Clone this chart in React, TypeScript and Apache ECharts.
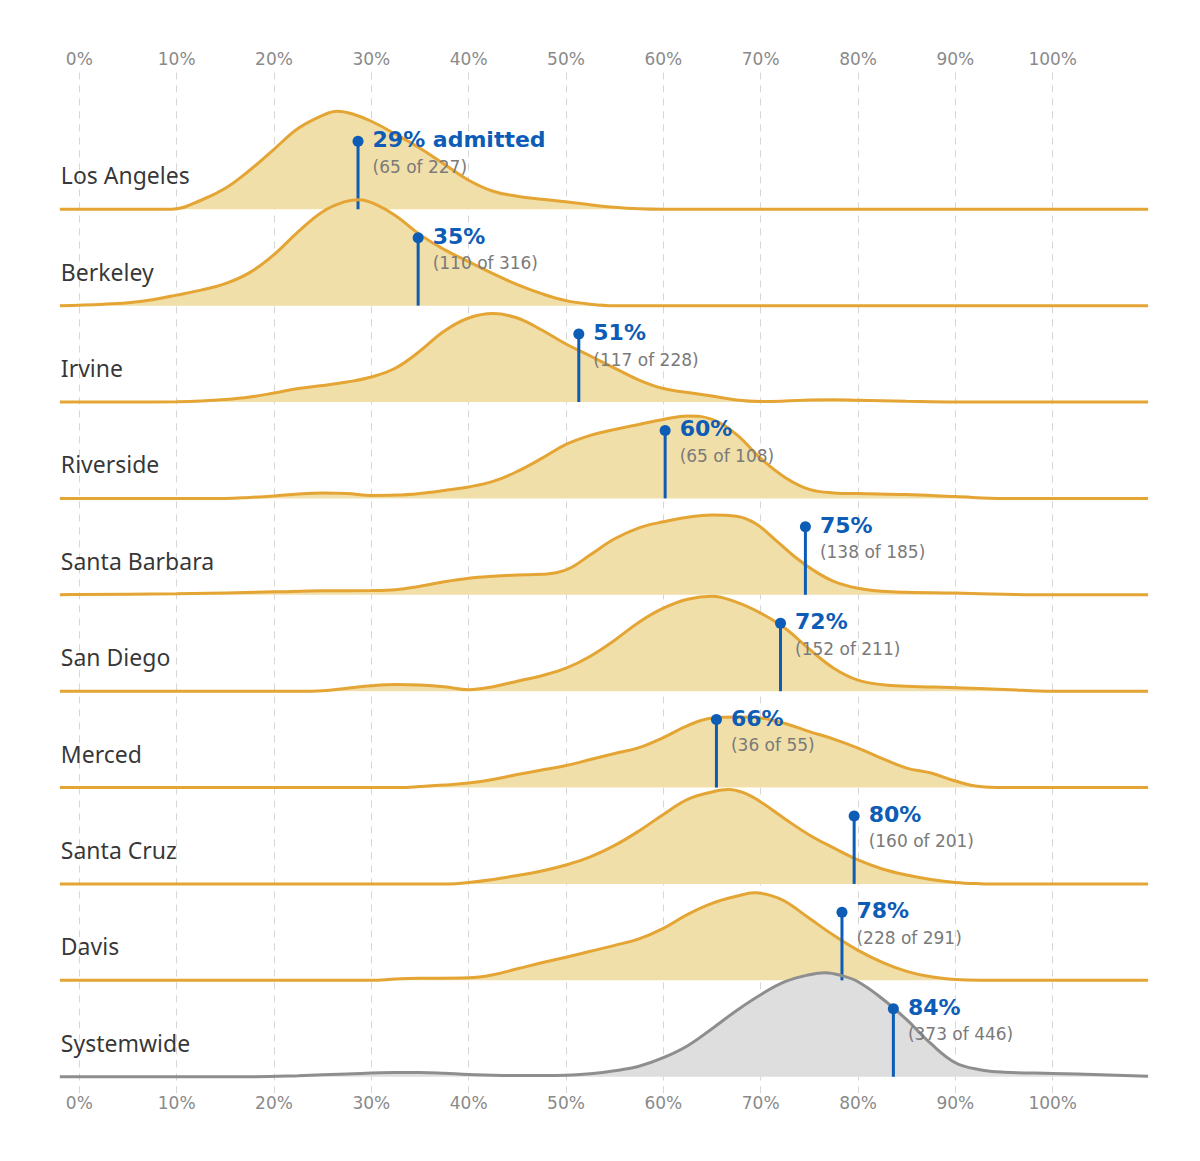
import React, { useEffect, useRef } from "react";
import * as echarts from "echarts";

// ---- data ----
const schools = [
  "Los Angeles",
  "Berkeley",
  "Irvine",
  "Riverside",
  "Santa Barbara",
  "San Diego",
  "Merced",
  "Santa Cruz",
  "Davis",
  "Systemwide",
];
const admitted = [65, 110, 117, 65, 138, 152, 36, 160, 228, 373];
const applicants = [227, 316, 228, 108, 185, 211, 55, 201, 291, 446];
const rateLabels = [29, 35, 51, 60, 75, 72, 66, 80, 78, 84];

// density curves: [percent, relative height] (height in row-pixel units)
const losAngeles = [[-2, 0], [5, 0], [9.5, 0], [12.5, 9], [15, 21], [17.5, 39], [20, 60], [22.5, 81], [25, 94], [26.5, 98], [28, 95.5], [30, 88], [32.5, 75], [35, 61], [37.5, 45], [40, 29], [42.5, 18], [45, 13], [47.5, 10], [50, 7.5], [52.5, 4.5], [55, 2], [57.5, 0.5], [60, 0], [70, 0], [85, 0], [100, 0], [109.8, 0]];
const berkeley = [[-2, 0], [2.5, 1.5], [5, 3], [7.5, 6], [10, 10.5], [12.5, 15.5], [15, 22], [17.5, 33], [20, 51], [22.5, 74], [25, 94], [27.3, 104], [28.8, 106], [30.5, 101], [32.5, 90], [35, 71], [37.5, 56], [40, 44], [42.5, 32], [45, 21], [47.5, 12], [50, 5], [52.5, 1.5], [55, 0], [65, 0], [80, 0], [95, 0], [109.8, 0]];
const irvine = [[-2, 0], [5, 0], [10, 0.3], [12.5, 1], [15, 2.5], [17.5, 5], [20, 9], [22.5, 13.5], [25, 16.5], [27.5, 20], [30, 25], [32.5, 34], [35, 51], [37.5, 71], [40, 84], [42.5, 88.5], [45, 84], [47.5, 72], [50, 58], [52.5, 46], [55, 34], [57.5, 22], [60, 13.5], [62.5, 9.5], [65, 6], [67.5, 2], [70, 0.5], [72.5, 1], [75, 2], [77.5, 2.3], [80, 1.8], [85, 0.7], [90, 0], [100, 0], [109.8, 0]];
const riverside = [[-2, 0], [5, 0], [10, 0], [15, 0], [17.5, 1], [20, 2.5], [22.5, 4.5], [25, 5.5], [27.5, 5], [30, 3], [32.5, 3.3], [35, 5], [37.5, 8], [40, 11.5], [42.5, 17], [45, 27], [47.5, 40], [50, 54], [52.5, 63], [55, 69], [57.5, 74], [60, 79], [62.5, 82.5], [65, 79], [67.5, 64], [70, 40], [72.5, 21], [75, 9], [77.5, 5.5], [80, 4.8], [85, 3.8], [90, 1.8], [95, 0], [100, 0], [109.8, 0]];
const santaBarbara = [[-2, 0], [0, 0.3], [10, 1], [20, 3], [25, 4], [30, 4.2], [32.5, 5], [35, 8.5], [37.5, 13], [40, 16.5], [42.5, 18.5], [45, 19.8], [47.5, 20.5], [49, 22], [50.5, 27], [52.5, 40], [55, 56], [57.5, 67], [60, 73], [62.5, 77.5], [65, 79.7], [67.5, 78.5], [69.5, 71], [71.5, 55], [73.5, 38], [75.5, 24], [77.5, 13.5], [80, 6.5], [82.5, 3.5], [85, 2.5], [90, 1.7], [95, 0.6], [98, 0], [109.8, 0]];
const sanDiego = [[-2, 0], [5, 0], [15, 0], [22.5, 0], [25, 0.5], [27.5, 3], [30, 5.5], [32.5, 6.7], [35, 6.2], [37.5, 4.5], [40, 1.5], [42.5, 4.5], [45, 10], [47.5, 15.5], [50, 23], [52.5, 35], [55, 51], [57.5, 69], [60, 83], [62.5, 92], [65, 95], [67.5, 89], [70, 78], [72.5, 63], [75, 42], [77.5, 23], [80, 11], [82.5, 6.5], [85, 5], [90, 3.5], [95, 1.8], [100, 0], [109.8, 0]];
const merced = [[-2, 0], [10, 0], [20, 0], [30, 0], [33, 0], [35, 1], [37.5, 2.5], [40, 4.5], [42.5, 8], [45, 13], [47.5, 17.5], [50, 22], [52.5, 28], [55, 34], [57.5, 40], [60, 50], [62.5, 62], [65, 69.5], [67.5, 70.5], [70, 69.5], [72.5, 64], [75, 56], [77.5, 48.5], [80, 39.5], [82.5, 29], [85, 19.5], [87.5, 14.5], [90, 6.5], [92.5, 1], [95, 0], [100, 0], [109.8, 0]];
const santaCruz = [[-2, 0], [10, 0], [20, 0], [30, 0], [38, 0], [40, 1.5], [42.5, 4.5], [45, 8.5], [47.5, 13], [50, 19], [52.5, 27], [55, 38.5], [57.5, 53], [60, 69.5], [62.5, 84.5], [65, 92], [66.7, 94.5], [68.3, 91], [70, 82], [72.5, 65], [75, 49], [77.5, 36], [80, 24], [82.5, 15], [85, 9], [87.5, 4.5], [90, 1.5], [92.5, 0.3], [95, 0], [100, 0], [109.8, 0]];
const davis = [[-2, 0], [10, 0], [20, 0], [30, 0], [32.5, 1.3], [35, 2], [40, 2.5], [42.5, 5.5], [45, 11.5], [47.5, 17.5], [50, 23], [52.5, 29], [55, 35], [57.5, 41.5], [60, 52], [62.5, 66], [65, 77], [67.5, 84], [69.4, 87.5], [71, 85], [72.5, 79], [75, 62], [77.5, 45], [80, 30], [82.5, 18], [85, 9], [87.5, 3.5], [90, 0.8], [92.5, 0], [100, 0], [109.8, 0]];
const systemwide = [[-2, 0], [8, 0], [18, 0], [22.5, 1], [27.5, 2.8], [32.5, 4.2], [35, 4.3], [37.5, 3.5], [40, 2.2], [45, 1.2], [50, 1.5], [52.5, 3], [55, 6], [57.5, 10.5], [60, 19], [62.5, 31], [65, 48], [67.5, 66], [70, 82], [72.5, 95], [75, 102], [76.6, 104], [78.2, 101.5], [80, 95], [82.5, 78], [85, 57], [87.5, 33], [90, 14], [92.5, 7], [95, 4.5], [100, 3.3], [105, 2], [109.8, 0.5]];

const densities = [losAngeles, berkeley, irvine, riverside, santaBarbara, sanDiego, merced, santaCruz, davis, systemwide];

// ---- styling ----
const ROW_PX = 96.38;
const ORANGE = "#e4a534";
const BEIGE = "#f1dfa9";
const GRAY_LINE = "#8e8e8e";
const GRAY_FILL = "#dedede";
const BLUE = "#0d5cb6";
const TEXT_GRAY = "#7a7a7a";
const TICK_GRAY = "#8a8a8a";

export default function App() {
  const ref = useRef<HTMLDivElement>(null);

  useEffect(() => {
    document.body.style.margin = "0";
    const chart = echarts.init(ref.current!, undefined, { renderer: "svg" });
    const n = schools.length;
    const series: any[] = [];

    schools.forEach((name, i) => {
      const base = n - 1 - i;
      const isSys = i === n - 1;
      series.push({
        type: "line",
        name: name,
        smooth: 0.4,
        symbol: "none",
        silent: true,
        z: 2,
        data: densities[i].map(([x, h]) => [x, base + h / ROW_PX]),
        lineStyle: { color: isSys ? GRAY_LINE : ORANGE, width: 3 },
        areaStyle: { color: isSys ? GRAY_FILL : BEIGE, opacity: 1, origin: base },
      });
      const rate = (admitted[i] / applicants[i]) * 100;
      series.push({
        type: "line",
        name: name + " rate",
        symbol: "circle",
        symbolSize: 11,
        showSymbol: true,
        silent: true,
        z: 2,
        lineStyle: { color: BLUE, width: 3 },
        itemStyle: { color: BLUE },
        data: [
          { value: [rate, base], symbol: "none", label: { show: false } },
          {
            value: [rate, base + 68 / ROW_PX],
            label: {
              show: true,
              position: [20, -10],
              align: "left",
              verticalAlign: "top",
              formatter:
                "{a|" + rateLabels[i] + "%" + (i === 0 ? " admitted" : "") + "}\n{b|(" +
                admitted[i] + " of " + applicants[i] + ")}",
              rich: {
                a: { fontFamily: "DejaVu Sans", fontWeight: "bold", fontSize: 22, color: BLUE, lineHeight: 28 },
                b: { fontFamily: "DejaVu Sans", fontSize: 17, color: TEXT_GRAY, lineHeight: 26 },
              },
            },
          },
        ],
      });
    });

    series.push({
      type: "scatter",
      name: "names",
      symbol: "circle",
      symbolSize: 2,
      silent: true,
      itemStyle: { color: "rgba(255,255,255,0)" },
      z: 3,
      data: schools.map((s, i) => ({ name: s, value: [-2, n - 1 - i + 34 / ROW_PX] })),
      label: {
        show: true,
        position: "right",
        distance: 0,
        formatter: (p: any) => p.name,
        fontFamily: "Noto Sans",
        fontSize: 23,
        color: "#000000",
      },
    });

    const labelFmt = (v: number) => (v < 0 || v > 100 ? "" : v + "%");
    const axisBase = {
      type: "value",
      min: -10,
      max: 110,
      interval: 10,
      axisLine: { show: false },
      axisTick: { show: false },
    };

    chart.setOption({
      animation: false,
      grid: {
        left: -18.04,
        right: 49.96,
        top: 72.4,
        bottom: 67.9,
        containLabel: false,
        outerBoundsMode: "none",
      },
      xAxis: [
        {
          ...axisBase,
          position: "bottom",
          axisLabel: { formatter: labelFmt, margin: 1, fontFamily: "DejaVu Sans", fontSize: 17, color: TICK_GRAY },
          splitLine: {
            show: true,
            showMinLine: false,
            showMaxLine: false,
            lineStyle: { color: "#d6d6d6", width: 1, type: [7, 6] },
          },
        },
        {
          ...axisBase,
          position: "top",
          axisLabel: { formatter: labelFmt, margin: 5, fontFamily: "DejaVu Sans", fontSize: 17, color: TICK_GRAY },
          splitLine: { show: false },
        },
      ],
      yAxis: { type: "value", min: -0.17, max: 10.42, show: false, splitLine: { show: false } },
      series,
    });

    return () => chart.dispose();
  }, []);

  return <div ref={ref} style={{ width: 1200, height: 1161 }} />;
}
